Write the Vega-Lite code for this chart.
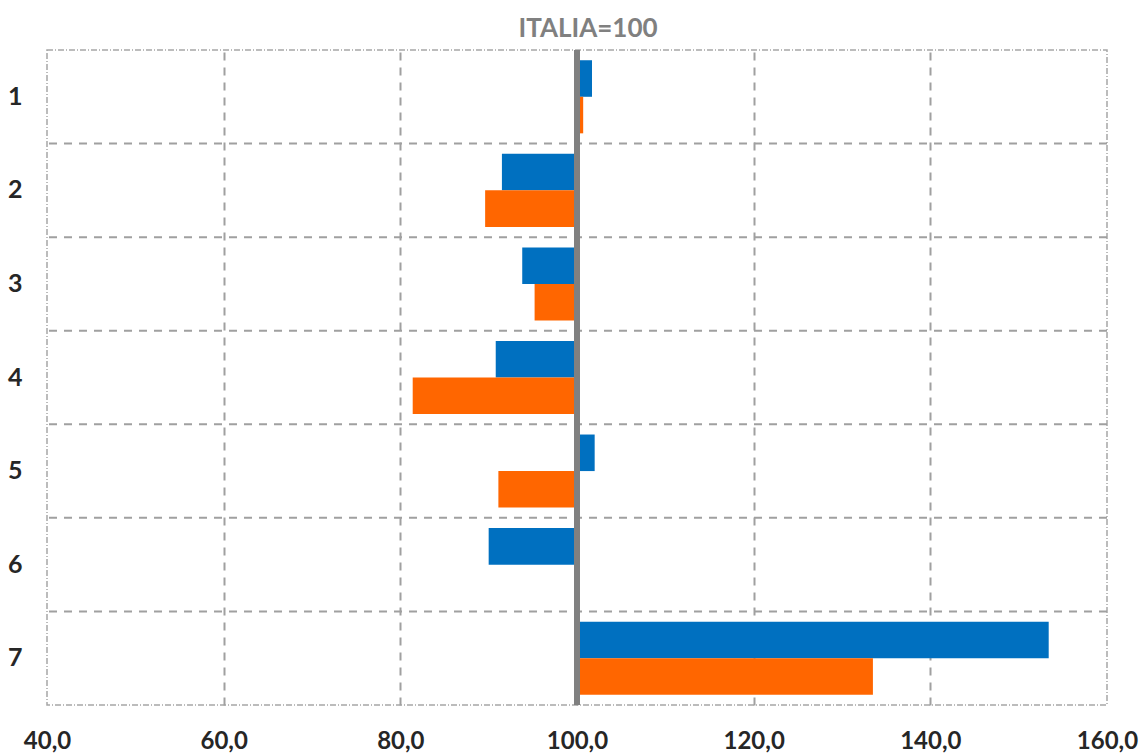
{
  "$schema": "https://vega.github.io/schema/vega-lite/v6.json",
  "autosize": "none",
  "width": 1060,
  "height": 655,
  "padding": {"left": 47, "top": 50, "right": 32, "bottom": 49},
  "background": "white",
  "title": {"text": "ITALIA=100", "color": "#808080", "fontSize": 26, "font": "Lato", "fontWeight": "bold", "offset": 5, "dx": 11, "anchor": "middle"},
  "config": {
    "view": {"stroke": "#a6a6a6", "strokeWidth": 1.5, "strokeDash": [6, 2, 1, 2]},
    "axis": {"labelFont": "Lato", "labelFontWeight": "bold", "labelColor": "#262626", "ticks": false, "domain": false, "titleFontSize": 0}
  },
  "data": {"values": [
    {"cat": "1", "serie": "Serie 1", "value": 101.7},
    {"cat": "1", "serie": "Serie 2", "value": 100.7},
    {"cat": "2", "serie": "Serie 1", "value": 91.5},
    {"cat": "2", "serie": "Serie 2", "value": 89.6},
    {"cat": "3", "serie": "Serie 1", "value": 93.8},
    {"cat": "3", "serie": "Serie 2", "value": 95.2},
    {"cat": "4", "serie": "Serie 1", "value": 90.8},
    {"cat": "4", "serie": "Serie 2", "value": 81.4},
    {"cat": "5", "serie": "Serie 1", "value": 102.0},
    {"cat": "5", "serie": "Serie 2", "value": 91.1},
    {"cat": "6", "serie": "Serie 1", "value": 90.0},
    {"cat": "7", "serie": "Serie 1", "value": 153.4},
    {"cat": "7", "serie": "Serie 2", "value": 133.5}
  ]},
  "layer": [
    {
      "transform": [{"filter": "datum.serie == 'Serie 1' && datum.cat != '1'"}],
      "mark": {"type": "rule", "stroke": "#a0a0a0", "strokeWidth": 2, "strokeDash": [8, 7]},
      "encoding": {
        "y": {"field": "cat", "type": "nominal", "bandPosition": 0}
      }
    },
    {
      "mark": {"type": "bar"},
      "encoding": {
        "y": {"field": "cat", "type": "nominal", "sort": ["1","2","3","4","5","6","7"],
              "scale": {"paddingInner": 0, "paddingOuter": 0},
              "axis": {"title": null, "labelFontSize": 25, "labelPadding": 25, "grid": false}},
        "yOffset": {"field": "serie", "type": "nominal", "scale": {"paddingInner": 0, "paddingOuter": 0.28}},
        "x": {"field": "value", "type": "quantitative",
              "scale": {"domain": [40, 160], "nice": false, "zero": false},
              "axis": {"title": null, "values": [40, 60, 80, 100, 120, 140, 160], "labelFontSize": 24, "labelPadding": 24, "labelFlush": false,
                       "labelExpr": "replace(format(datum.value, '.1f'), '.', ',')",
                       "grid": true, "gridColor": "#a0a0a0", "gridWidth": 2, "gridDash": [8, 7],
                       "gridOpacity": {"condition": {"test": "datum.value == 40 || datum.value == 160", "value": 0}, "value": 1}}},
        "x2": {"datum": 100},
        "color": {"field": "serie", "type": "nominal", "legend": null,
                  "scale": {"domain": ["Serie 1", "Serie 2"], "range": ["#0070C0", "#FF6600"]}}
      }
    },
    {
      "mark": {"type": "rule", "stroke": "#808080", "strokeWidth": 6},
      "encoding": {"x": {"datum": 100}}
    }
  ]
}
